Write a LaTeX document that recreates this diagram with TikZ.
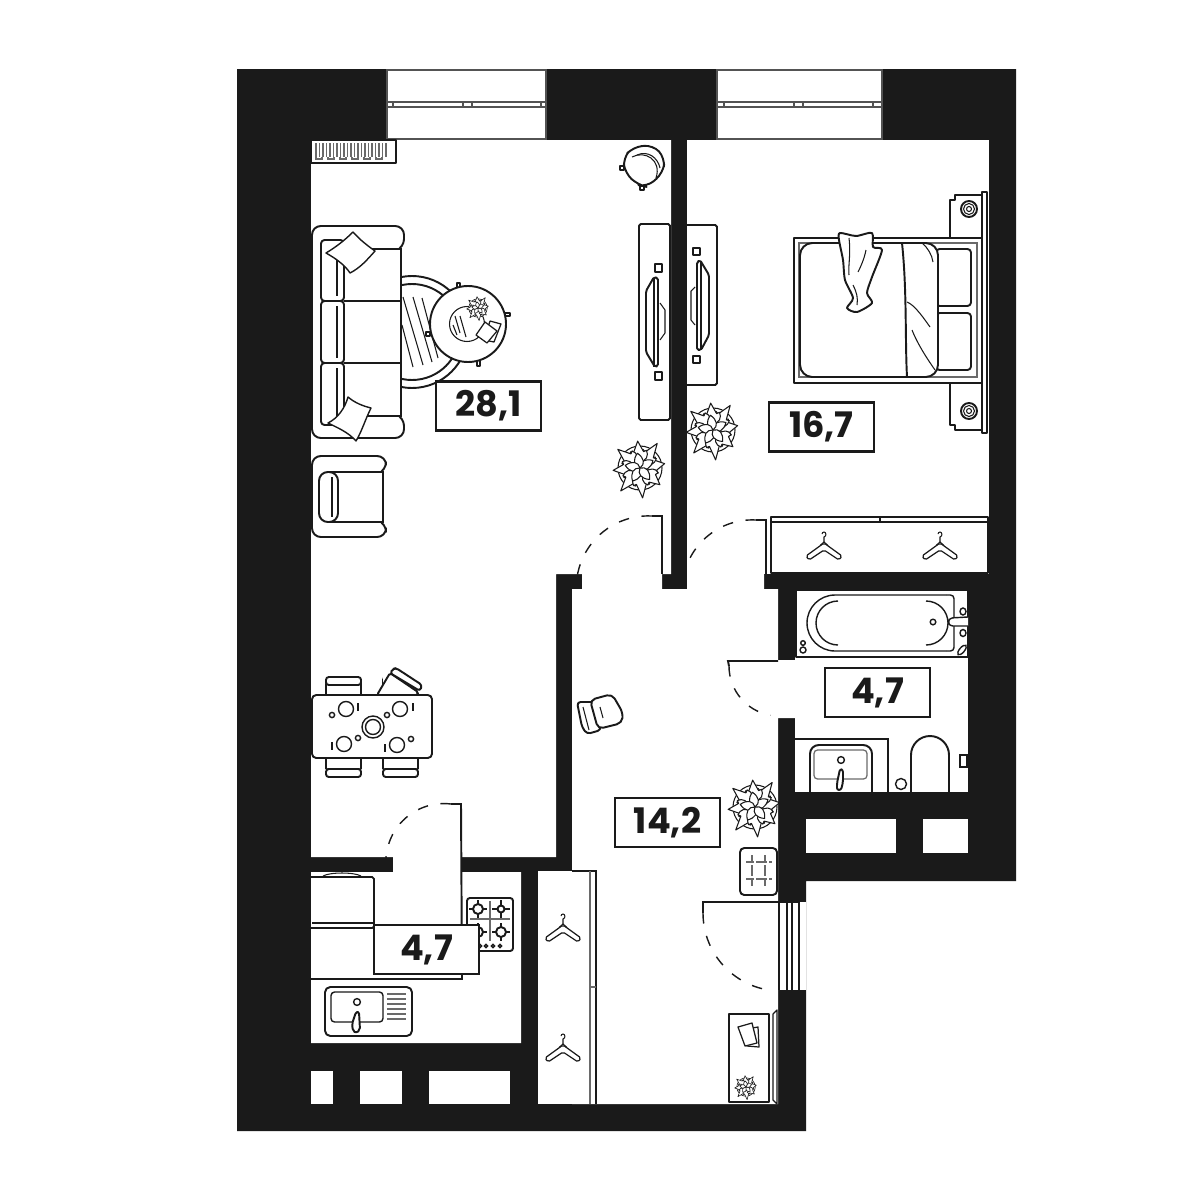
\documentclass[tikz,border=0pt]{standalone}
\usepackage{fontspec}
\newfontfamily\labelfont{Poppins}
\definecolor{ink}{HTML}{1A1A1A}
\tikzset{
wallfill/.style={fill=ink,draw=none},
roomfill/.style={fill=white,draw=none},
furn/.style={draw=ink,fill=white,line width=0.55pt,line join=round},
fine/.style={draw=ink,line width=0.3pt},
finegray/.style={draw=ink!65,line width=0.35pt},
doorarc/.style={draw=ink,line width=0.4pt,dash pattern=on 3pt off 3.6pt},
doorleaf/.style={draw=ink,line width=0.55pt},
windowframe/.style={draw=ink!75,fill=white,line width=0.4pt},
roomlabel/.style={draw=ink,fill=white,line width=0.6pt,minimum width=1.05cm,minimum height=0.49cm,inner sep=0pt,font=\labelfont\bfseries\fontsize{10}{12}\selectfont,text=ink},
plantline/.style={draw=ink,fill=white,line width=0.3pt,line join=round},
smallplant/.style={scale=0.42,plantline/.append style={line width=0.17pt}},
plantpic/.pic={
\draw[plantline] (0,0) circle (22);
\foreach \a/\l in {10/25,55/30,95/27,140/29,185/27,230/30,275/30,320/26} {\draw[plantline,rotate=\a] (6,0) .. controls (8,-7) and (12,-10) .. (17,-8) -- (16,-5) -- (\l,0) -- (16,5) -- (17,8) .. controls (12,10) and (6,7) .. (6,0);}
\foreach \a in {30,100,...,310} {\draw[plantline,rotate=\a] (0,0) .. controls (3,-6) and (9,-6) .. (15,0) .. controls (9,6) and (3,6) .. (0,0);}
},
hangerpic/.pic={
\draw[fine,line width=0.35pt,fill=white,rounded corners=0.5pt] (0,0) -- (18,13) -- (15,17) -- (0,7) -- (-15,17) -- (-18,13) -- cycle;
\draw[fine] (0,0) -- (0,-6) .. controls (3,-7) and (2,-11) .. (0,-11) .. controls (-1,-11) and (-2,-10) .. (-2,-9);
\draw[fine] (-4,2.5) -- (0,-1) -- (4,2.5);
}
}
\begin{document}
\begin{tikzpicture}[x=0.01cm,y=-0.01cm]
\useasboundingbox (0,0) rectangle (1200,1200);
\fill[white] (0,0) rectangle (1200,1200);
\path[wallfill] (237,69)--(1016,69)--(1016,881)--(806,881)--(806,1131)--(237,1131)--cycle;
\path[roomfill] (311,140)--(671,140)--(671,574)--(556,574)--(556,857)--(311,857)--cycle;
\path[roomfill] (687,140)--(989,140)--(989,574)--(687,574)--cycle;
\path[roomfill] (572,589)--(582,589)--(582,574)--(662,574)--(662,589)--(687,589)--(687,574)--(764,574)--(764,589)--(778,589)--(778,660)--(795,660)--(795,718)--(778,718)--(778,1104)--(572,1104)--cycle;
\path[roomfill] (795,590)--(968,590)--(968,793)--(795,793)--cycle;
\path[roomfill] (311,872)--(393,872)--(393,857)--(461,857)--(461,872)--(521,872)--(521,1043)--(311,1043)--cycle;
\path[roomfill] (538,871)--(596,871)--(596,1104)--(538,1104)--cycle;
\path[roomfill] (778,902)--(806,902)--(806,990)--(778,990)--cycle;
\path[roomfill] (806,819) rectangle (896,853);
\path[roomfill] (923,819) rectangle (968,853);
\path[roomfill] (311,1071) rectangle (333,1104);
\path[roomfill] (360,1071) rectangle (402,1104);
\path[roomfill] (429,1071) rectangle (510,1104);
\draw[windowframe] (387,70) rectangle (546,139);
\draw[windowframe] (717,70) rectangle (882,139);
\draw[windowframe] (387,102) rectangle (546,107);
\draw[windowframe] (717,102) rectangle (882,107);
\foreach \x/\w in {387/6,463/9,541/5,717/7,794/9,873/9} {\draw[windowframe] (\x,102) rectangle ++(\w,5);}
\draw[furn] (311,140) rectangle (396,163);
\foreach \x in {316,319.5,...,386} {\draw[finegray] (\x,143) -- (\x,157);}
\foreach \x in {316,328,...,386} {\draw[finegray] (\x,157) -- (\x,159) -- (\x+6,159) -- (\x+6,157);}
\draw[furn,rounded corners=2.5pt] (623,158) -- (633,147) -- (653,145) -- (665,158) -- (663,173) -- (647,187) -- (638,185) -- (625,173) -- cycle;
\draw[fine] (632,157) .. controls (645,150) and (662,160) .. (656,178);
\draw[fine] (637,155) .. controls (648,150) and (658,158) .. (660,168);
\draw[furn,line width=0.35pt] (620,166) rectangle (624,170);
\draw[furn,line width=0.35pt] (640,186) rectangle (644,190);
\draw[furn] (412,332) circle (56);
\draw[furn] (412,332) circle (48);
\draw[fine] (402,325) -- (413,367);
\draw[fine] (403,297) -- (423,365);
\draw[fine] (413,297) -- (432,362);
\draw[fine] (422,298) -- (438,358);
\draw[furn,line width=0.4pt] (426,332) rectangle (430,336);
\draw[furn,line width=0.4pt] (457,283) rectangle (460,290);
\draw[furn,line width=0.4pt] (505,313) rectangle (510,316);
\draw[furn,line width=0.4pt] (477,360) rectangle (480,366);
\draw[furn] (468,324) circle (38);
\draw[fine] (467,324) circle (17.5);
\draw[fine] (455,316) -- (460,333);
\draw[fine] (460,316) -- (466,337);
\draw[fine] (453,325) -- (457,335);
\pic[smallplant] at (478,308) {plantpic};
\draw[furn,line width=0.35pt] (490,321) -- (501,324) -- (494,342) -- (484,340) -- cycle;
\draw[furn,line width=0.35pt] (485,322) -- (497,331) -- (487,343) -- (476,335) -- cycle;
\draw[furn,rounded corners=2.5pt] (401,249) -- (404,248) -- (404,226) -- (312,226) -- (312,438) -- (404,438) -- (404,417) -- (401,416);
\path[fill=white] (344,249) rectangle (401,416);
\draw[furn,rounded corners=1pt] (321,240) rectangle (344,301);
\draw[furn,rounded corners=1pt] (321,301) rectangle (344,363);
\draw[furn,rounded corners=1pt] (321,363) rectangle (344,425);
\draw[doorleaf] (344,249) -- (401,249) -- (401,416) -- (344,416);
\draw[doorleaf] (344,301) -- (401,301);
\draw[doorleaf] (344,363) -- (401,363);
\foreach \y/\z in {246/296,306/358,368/420} {\draw[fine] (337,\y) -- (337,\z);}
\draw[furn,line width=0.4pt] (353,232) .. controls (360,240) and (368,246) .. (375,251) .. controls (367,260) and (360,268) .. (350,273) .. controls (345,265) and (335,258) .. (326,253) .. controls (336,247) and (345,240) .. (353,232) -- cycle;
\draw[furn,line width=0.4pt] (348,397) .. controls (355,403) and (363,406) .. (371,408) .. controls (365,420) and (362,431) .. (356,441) .. controls (348,432) and (338,428) .. (328,423) .. controls (338,418) and (345,408) .. (348,397) -- cycle;
\node[roomlabel] (areaLiving) at (488.5,406) {28,1};
\draw[furn,rounded corners=0.5pt] (639,224) rectangle (670,420);
\draw[furn,rounded corners=0.5pt] (646,291) -- (654,277) -- (658,278) -- (658,366) -- (655,367) -- (646,352) -- cycle;
\draw[fine] (654,278) -- (654,367);
\draw[furn,line width=0.4pt] (655,264) rectangle (662,272);
\draw[furn,line width=0.4pt] (655,372) rectangle (662,380);
\draw[fine] (660,303) -- (665,310) -- (665,333) -- (660,340);
\draw[furn,rounded corners=0.5pt] (687,225) -- (717,225) -- (717,385) -- (687,385);
\draw[furn,rounded corners=0.5pt] (697,262) -- (700,260) -- (709,275) -- (709,335) -- (701,350) -- (697,350) -- cycle;
\draw[fine] (701,261) -- (701,350);
\draw[furn,line width=0.4pt] (693,248) rectangle (700,255);
\draw[furn,line width=0.4pt] (693,356) rectangle (700,363);
\draw[fine] (695,287) -- (691,291) -- (691,320) -- (695,325);
\pic at (640,468) {plantpic};
\pic at (713,430) {plantpic};
\pic at (755,807) {plantpic};
\draw[furn] (950,200) -- (955,200) -- (955,195) -- (982,195) -- (982,430) -- (955,430) -- (955,425) -- (950,425) -- cycle;
\draw[furn] (982,192) rectangle (987,433);
\foreach \y in {209,411} {
\draw[furn] (969,\y) circle (8);
\draw[fine] (969,\y) circle (5.5);
\draw[fine] (969,\y) circle (2.5);
}
\draw[furn,line width=0.8pt] (794,238) rectangle (982,383);
\draw[finegray] (799,243) rectangle (977,377);
\draw[furn,rounded corners=1pt] (936,249) rectangle (971,306);
\draw[furn,rounded corners=1pt] (936,313) rectangle (971,370);
\draw[furn,rounded corners=3.5pt] (800,243) -- (938,243) -- (938,377) -- (800,377) -- cycle;
\draw[doorleaf] (902,243) .. controls (907,290) and (905,340) .. (907,377);
\draw[fine] (922,243) .. controls (928,248) and (932,255) .. (933,262);
\draw[fine] (907,302) .. controls (915,305) and (925,320) .. (930,327);
\draw[fine] (912,330) .. controls (918,345) and (928,360) .. (935,370);
\draw[furn] plot[smooth cycle,tension=0.45] coordinates {(840,233) (856,236) (872,233) (873,247) (882,250) (872,277) (867,293) (872,303) (857,312) (847,308) (853,298) (845,280) (843,260) (839,240)};
\draw[fine] (849,238) .. controls (851,255) and (848,265) .. (849,275);
\draw[fine] (866,250) .. controls (864,260) and (860,268) .. (858,272);
\draw[fine] (853,285) .. controls (857,293) and (858,298) .. (857,305);
\node[roomlabel] (areaBedroom) at (821.5,427) {16,7};
\draw[furn,rounded corners=2.5pt] (383,472) -- (386,471) -- (386,456) -- (312,456) -- (312,537) -- (386,537) -- (386,523) -- (383,522);
\path[fill=white] (330,472) rectangle (383,522);
\draw[doorleaf] (330,472) -- (383,472) -- (383,522) -- (330,522);
\draw[furn,rounded corners=2.5pt] (319,472) rectangle (338,522);
\draw[fine] (332,477) -- (332,517);
\foreach \x in {326,383} {\draw[furn,rounded corners=0.5pt] (\x,682) rectangle ++(35,20);\draw[furn,rounded corners=0.8pt] (\x,677) rectangle ++(35,8);}
\path[fill=white] (383,676) rectangle (419,694);
\draw[furn,rounded corners=0.5pt] (377,695) -- (390,673) -- (418,692) -- (418,695) -- cycle;
\draw[furn,rounded corners=0.8pt] (393,669) -- (396,668) -- (422,685) -- (420,691) -- (390,673) -- cycle;
\foreach \x in {326,383} {\draw[furn,rounded corners=0.5pt] (\x,750) rectangle ++(35,20);\draw[furn,rounded corners=0.8pt] (\x,769) rectangle ++(35,8);}
\draw[furn,rounded corners=1.2pt] (312,695) rectangle (432,758);
\foreach \x/\y in {346/709,400/709,344/744,397/745} {\draw[fine,line width=0.4pt] (\x,\y) circle (7.5);}
\foreach \x/\y in {332/715,387/715,358/738,411/739} {\draw[fine,line width=0.4pt] (\x,\y) circle (2.6);}
\draw[fine] (358,703) -- (358,711);
\draw[fine] (413,703) -- (413,711);
\draw[fine] (332,742) -- (332,750);
\draw[fine] (385,744) -- (385,752);
\draw[fine,line width=0.4pt] (373,727) circle (11);
\draw[fine,line width=0.4pt] (373,727) circle (7.5);
\draw[furn,rounded corners=1pt] (577,702) -- (594,702) -- (601,730) -- (587,734) -- (582,727) -- cycle;
\draw[furn,rounded corners=1.5pt] (590,700) -- (612,694) -- (623,713) -- (622,723) -- (598,729) -- cycle;
\draw[fine] (600,707) -- (603,718);
\draw[fine] (583,707) -- (589,730);
\draw[doorleaf] (652,516) -- (662,516) -- (662,574);
\draw[doorarc] (652,516) arc[start angle=273,end angle=180,radius=72];
\draw[doorleaf] (756,520) -- (766,520) -- (766,574);
\draw[doorarc] (756,520) arc[start angle=273,end angle=190,radius=70];
\draw[furn,line width=0.4pt] (771,517) rectangle (988,573);
\draw[fine] (771,522) -- (988,522);
\draw[fine] (880,517) -- (880,522);
\pic at (824,543) {hangerpic};
\pic at (940,543) {hangerpic};
\draw[furn,line width=0.4pt] (796,590) rectangle (968,657);
\draw[fine,line width=0.4pt,rounded corners=1pt] (946,595) -- (954,595) -- (954,651) -- (946,651);
\draw[fine,line width=0.4pt] (946,595) -- (835,595) arc[start angle=270,end angle=90,radius=28] -- (946,651);
\draw[fine,line width=0.4pt] (838,601) arc[start angle=270,end angle=90,radius=22];
\draw[fine,line width=0.4pt] (926,601) arc[start angle=-90,end angle=90,radius=22];
\draw[fine,line width=0.4pt] (933,622) circle (2.8);
\draw[furn,line width=0.4pt,rounded corners=0.8pt] (968,617) -- (950,618) -- (948,622) -- (950,626) -- (968,626);
\draw[fine,line width=0.4pt] (963,611.5) ellipse (3 and 3.5);
\draw[fine,line width=0.4pt] (963,633) ellipse (3 and 3.5);
\draw[fine,line width=0.4pt,rotate around={50:(962,650)}] (962,650) ellipse (6 and 2.5);
\draw[fine,line width=0.4pt] (803,643) circle (2.3);
\draw[fine,line width=0.4pt] (803,650) circle (3);
\node[roomlabel] (areaBath) at (877.5,692.5) {4,7};
\draw[doorleaf] (778,661) -- (728,661) -- (729,666);
\draw[doorarc] (729,666) arc[start angle=180,end angle=100,radius=50];
\draw[doorleaf] (795,739) -- (888,739) -- (888,793);
\draw[furn,rounded corners=2.5pt] (810,793) -- (810,745) -- (872,745) -- (872,793);
\draw[finegray,rounded corners=1pt] (814,750) rectangle (867,779);
\draw[fine,line width=0.4pt] (841,760) circle (3.4);
\draw[furn,rounded corners=0.6pt] (840,769) -- (843,770) -- (843,782) -- (841,790) -- (837,790) -- (837,783) -- cycle;
\draw[fine,line width=0.4pt] (901,784) circle (5.5);
\draw[furn] (911,792) -- (911,755) arc[start angle=180,end angle=360,radius=19] -- (949,792);
\draw[fine,line width=0.4pt,fill=white] (960,755) rectangle (967,767);
\draw[doorleaf] (795,793) -- (968,793);
\node[roomlabel] (areaHall) at (667.5,822.5) {14,2};
\draw[furn,rounded corners=1.2pt] (740,848) rectangle (777,895);
\foreach \x in {752,765} {\draw[finegray,dash pattern=on 2.2pt off 0.7pt on 3pt off 0.7pt] (\x,855) -- (\x,887);}
\foreach \y in {862,879} {\draw[finegray,dash pattern=on 2.2pt off 0.7pt on 3pt off 0.7pt] (746,\y) -- (772,\y);}
\draw[furn,line width=0.4pt] (779,902) -- (779,990);
\draw[fine,line width=0.4pt] (787,902) -- (787,990);
\draw[fine,line width=0.4pt] (792,902) -- (792,990);
\draw[fine,line width=0.4pt] (799,902) -- (799,990);
\draw[doorleaf] (799,902) -- (703,902) -- (703,913);
\draw[doorarc] (703,913) arc[start angle=180,end angle=100,radius=78];
\draw[furn,line width=0.45pt] (729,1014) rectangle (769,1102);
\draw[furn,line width=0.35pt] (773,1014) -- (777,1010) -- (777,1104) -- (773,1100) -- cycle;
\draw[furn,line width=0.35pt] (752,1028) -- (758,1027) -- (759,1047) -- (747,1046) -- cycle;
\draw[furn,line width=0.35pt] (738,1027) -- (752,1023) -- (757,1043) -- (745,1046) -- cycle;
\pic[smallplant] at (746,1087) {plantpic};
\draw[doorleaf] (572,871) -- (596,871) -- (596,1104);
\draw[finegray] (590,871) -- (590,1104);
\draw[finegray] (590,987) -- (596,987);
\pic at (563,925) {hangerpic};
\pic at (563,1045) {hangerpic};
\draw[furn,rounded corners=0.5pt,line width=0.5pt] (311,877) -- (374,877) -- (374,928) -- (311,928);
\draw[fine] (323,876) .. controls (330,872) and (354,872) .. (361,876);
\draw[fine] (312,923) -- (373,923);
\draw[doorleaf] (311,979) -- (462,979) -- (461,804) -- (451,804);
\draw[doorarc] (451,804) arc[start angle=277,end angle=180,radius=58];
\draw[furn,rounded corners=0.8pt] (467,898) rectangle (513,951);
\draw[finegray] (490,901) -- (490,941);
\draw[finegray] (470,919) -- (510,919);
\foreach \x/\y/\r in {478/909/5,501/909/3.5,478/932/5,501/932/5} {
\draw[fine] (\x-9,\y) -- (\x+9,\y);
\draw[fine] (\x,\y-9) -- (\x,\y+9);
\draw[furn,line width=0.55pt] (\x,\y) circle (\r);
}
\foreach \x in {480,486,493,500} {\draw[fine,line width=0.4pt] (\x,946) circle (1.6);}
\node[roomlabel] (areaKitchen) at (426.5,949.5) {4,7};
\draw[furn,rounded corners=1.5pt] (325,987) rectangle (412,1036);
\draw[fine,line width=0.4pt,rounded corners=1pt] (331,992) rectangle (383,1022);
\foreach \y in {994,999,...,1019} {\draw[finegray] (387,\y) -- (406,\y);}
\draw[fine,line width=0.4pt] (357,1002) circle (3.4);
\draw[furn,rounded corners=0.6pt] (356,1012) -- (359,1012) -- (360,1030) -- (356,1033) -- (353,1031) -- (352,1024) -- cycle;
\end{tikzpicture}
\end{document}
